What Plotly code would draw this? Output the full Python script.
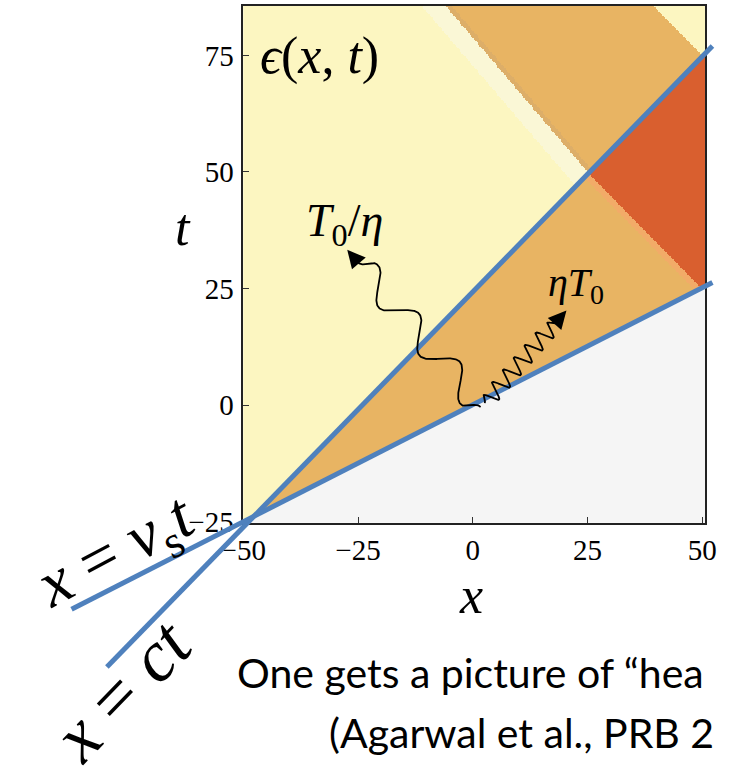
import numpy as np
import plotly.graph_objects as go

W, H = 730, 783

# ---------------- data ----------------
x_ticks = [-50, -25, 0, 25, 50]
t_ticks = [-25, 0, 25, 50, 75]
x_range = [-50.0, 50.66]
t_range = [-25.25, 85.63]

# light-cone lines (end points)
ct_x = [-79.7, 52.2]      # x = c t
ct_t = [-56.2, 77.0]
vs_x = [-87.4, 52.2]      # x = v_s t
vs_t = [-43.8, 26.3]

# reflected (left-moving) fronts
refl1_x = [-51.0, 25.5, 51.0]
refl1_t = [137.5, 49.5, 24.0]
refl2_x = [-51.0, 51.0]
refl2_t = [176.0, 74.0]

region_names = ["ahead", "cold", "pale", "warm", "stripe", "hot", "edge"]
region_colors = ["#f5f5f5", "#fcf6c1", "#faf7d6", "#e8b463", "#f2ab68", "#d95f2f", "#ddae68"]
pale_width = 6.0
stripe_width = 2.0
edge_width = 1.5

# wavy arrows (start, end in data units)
wave1_start, wave1_end = (1.7, -0.4), (-25.0, 30.6)
wave2_start, wave2_end = (2.6, 0.4), (18.0, 17.6)

# ---------------- layout geometry (pixels) ----------------
plot_left, plot_right, plot_top, plot_bottom = 231, 715.7, 6, 533
xdom = [plot_left / W, plot_right / W]
ydom = [1 - plot_bottom / H, 1 - plot_top / H]


def overlay_range(rng, dom):
    s = (rng[1] - rng[0]) / (dom[1] - dom[0])
    return [rng[0] - dom[0] * s, rng[1] + (1 - dom[1]) * s]


x2_range = overlay_range(x_range, xdom)
t2_range = overlay_range(t_range, ydom)

# ---------------- heatmap field ----------------
step = 0.3
xs = np.arange(x_range[0], x_range[1] + step, step)
ts = np.arange(t_range[0], t_range[1] + step, step)
X, T = np.meshgrid(xs, ts)
tc = np.interp(X, ct_x, ct_t)
tv = np.interp(X, vs_x, vs_t)
r1 = np.interp(X, refl1_x, refl1_t)
r2 = np.interp(X, refl2_x, refl2_t)

Z = np.zeros_like(X)
inside = (T >= tv) & (T <= tc)
outside = T > tc
Z[inside] = 3
Z[inside & (T >= r1 - stripe_width)] = 4
Z[inside & (T >= r1)] = 5
Z[outside] = 1
Z[outside & (T >= r1 - pale_width) & (T < r1)] = 2
Z[outside & (T >= r1) & (T < r2)] = 3
Z[outside & (T >= r1) & (T < r1 + edge_width)] = 6

n = len(region_colors)
cscale = []
for i, c in enumerate(region_colors):
    cscale.append([i / n, c])
    cscale.append([(i + 1) / n, c])

fig = go.Figure()
fig.add_trace(go.Heatmap(x=xs, y=ts, z=Z, colorscale=cscale, zmin=-0.5, zmax=n - 0.5,
                         showscale=False, hoverinfo="skip", xaxis="x", yaxis="y"))

blue = "#4f81bd"
fig.add_trace(go.Scatter(x=ct_x, y=ct_t, mode="lines", line=dict(color=blue, width=5),
                         xaxis="x2", yaxis="y2", hoverinfo="skip", showlegend=False))
fig.add_trace(go.Scatter(x=vs_x, y=vs_t, mode="lines", line=dict(color=blue, width=5),
                         xaxis="x2", yaxis="y2", hoverinfo="skip", showlegend=False))


def wavy(p0, p1, n_waves, amp, npts=400):
    p0 = np.array(p0); p1 = np.array(p1)
    d = p1 - p0
    L = np.hypot(*d)
    u = d / L
    nrm = np.array([-u[1], u[0]])
    s = np.linspace(0, 1, npts)
    env = np.clip(np.minimum(s, 1 - s) / 0.06, 0, 1)
    off = amp * env * np.sin(2 * np.pi * n_waves * s)
    pts = p0[None, :] + s[:, None] * d[None, :] + off[:, None] * nrm[None, :]
    return pts[:, 0], pts[:, 1], u


annotations = []
for (p0, p1, nw, amp) in [(wave1_start, wave1_end, 3.0, 2.9), (wave2_start, wave2_end, 6.5, 1.8)]:
    wx, wy, u = wavy(p0, p1, nw, amp)
    fig.add_trace(go.Scatter(x=wx, y=wy, mode="lines", line=dict(color="black", width=1.8),
                             xaxis="x2", yaxis="y2", hoverinfo="skip", showlegend=False))
    tip = np.array(p1) + u * 3.6
    annotations.append(dict(x=tip[0], y=tip[1], ax=p1[0], ay=p1[1], xref="x2", yref="y2",
                            axref="x2", ayref="y2", showarrow=True, arrowhead=2,
                            arrowsize=2.0, arrowwidth=1.8, arrowcolor="black", text=""))

serif = "Liberation Serif"


def txt(text, px, py, size, angle=0, family=serif, xanchor="center", yanchor="middle"):
    annotations.append(dict(text=text, x=px / W, y=1 - py / H, xref="paper", yref="paper",
                            showarrow=False, font=dict(family=family, size=size, color="black"),
                            textangle=angle, xanchor=xanchor, yanchor=yanchor))


txt("<i>ϵ</i>(<i>x</i>, <i>t</i>)", 246, 57, 52, xanchor="left")
txt("<i>T</i><sub>0</sub>/<i>η</i>", 337, 228, 46)
txt("<i>ηT</i><sub>0</sub>", 580, 291, 40)
txt("<i>t</i>", 168, 232, 52)
txt("<i>x</i>", 470, 607, 52)
txt("<i>x</i> = <i>v</i><sub>s</sub><i>t</i>", 99, 564, 66, angle=-28)
txt("<i>x</i> = <i>ct</i>", 104, 703, 72, angle=-46)
txt("One gets a picture of “hea", 222, 686, 41, family="Lato", xanchor="left")
txt("(Agarwal et al., PRB 2", 319, 747, 41, family="Lato", xanchor="left")

axis_common = dict(showline=True, mirror=True, linecolor="#222", linewidth=1.5,
                   ticks="inside", ticklen=6, tickwidth=1, tickcolor="#333",
                   showgrid=False, zeroline=False,
                   tickfont=dict(family=serif, size=29, color="black"))

fig.update_layout(
    width=W, height=H, margin=dict(l=0, r=0, t=0, b=0),
    paper_bgcolor="white", plot_bgcolor="rgba(0,0,0,0)", showlegend=False,
    xaxis=dict(domain=xdom, range=x_range, tickvals=x_ticks, ticklabelstandoff=1, **axis_common),
    yaxis=dict(domain=ydom, range=t_range, tickvals=t_ticks, ticklabelstandoff=2, **axis_common),
    xaxis2=dict(domain=[0, 1], range=x2_range, visible=False, anchor="y2"),
    yaxis2=dict(domain=[0, 1], range=t2_range, visible=False, anchor="x2"),
    annotations=annotations,
)

fig.write_html("out.html", config={"displayModeBar": False},
               post_script="document.body.style.margin='0';")
